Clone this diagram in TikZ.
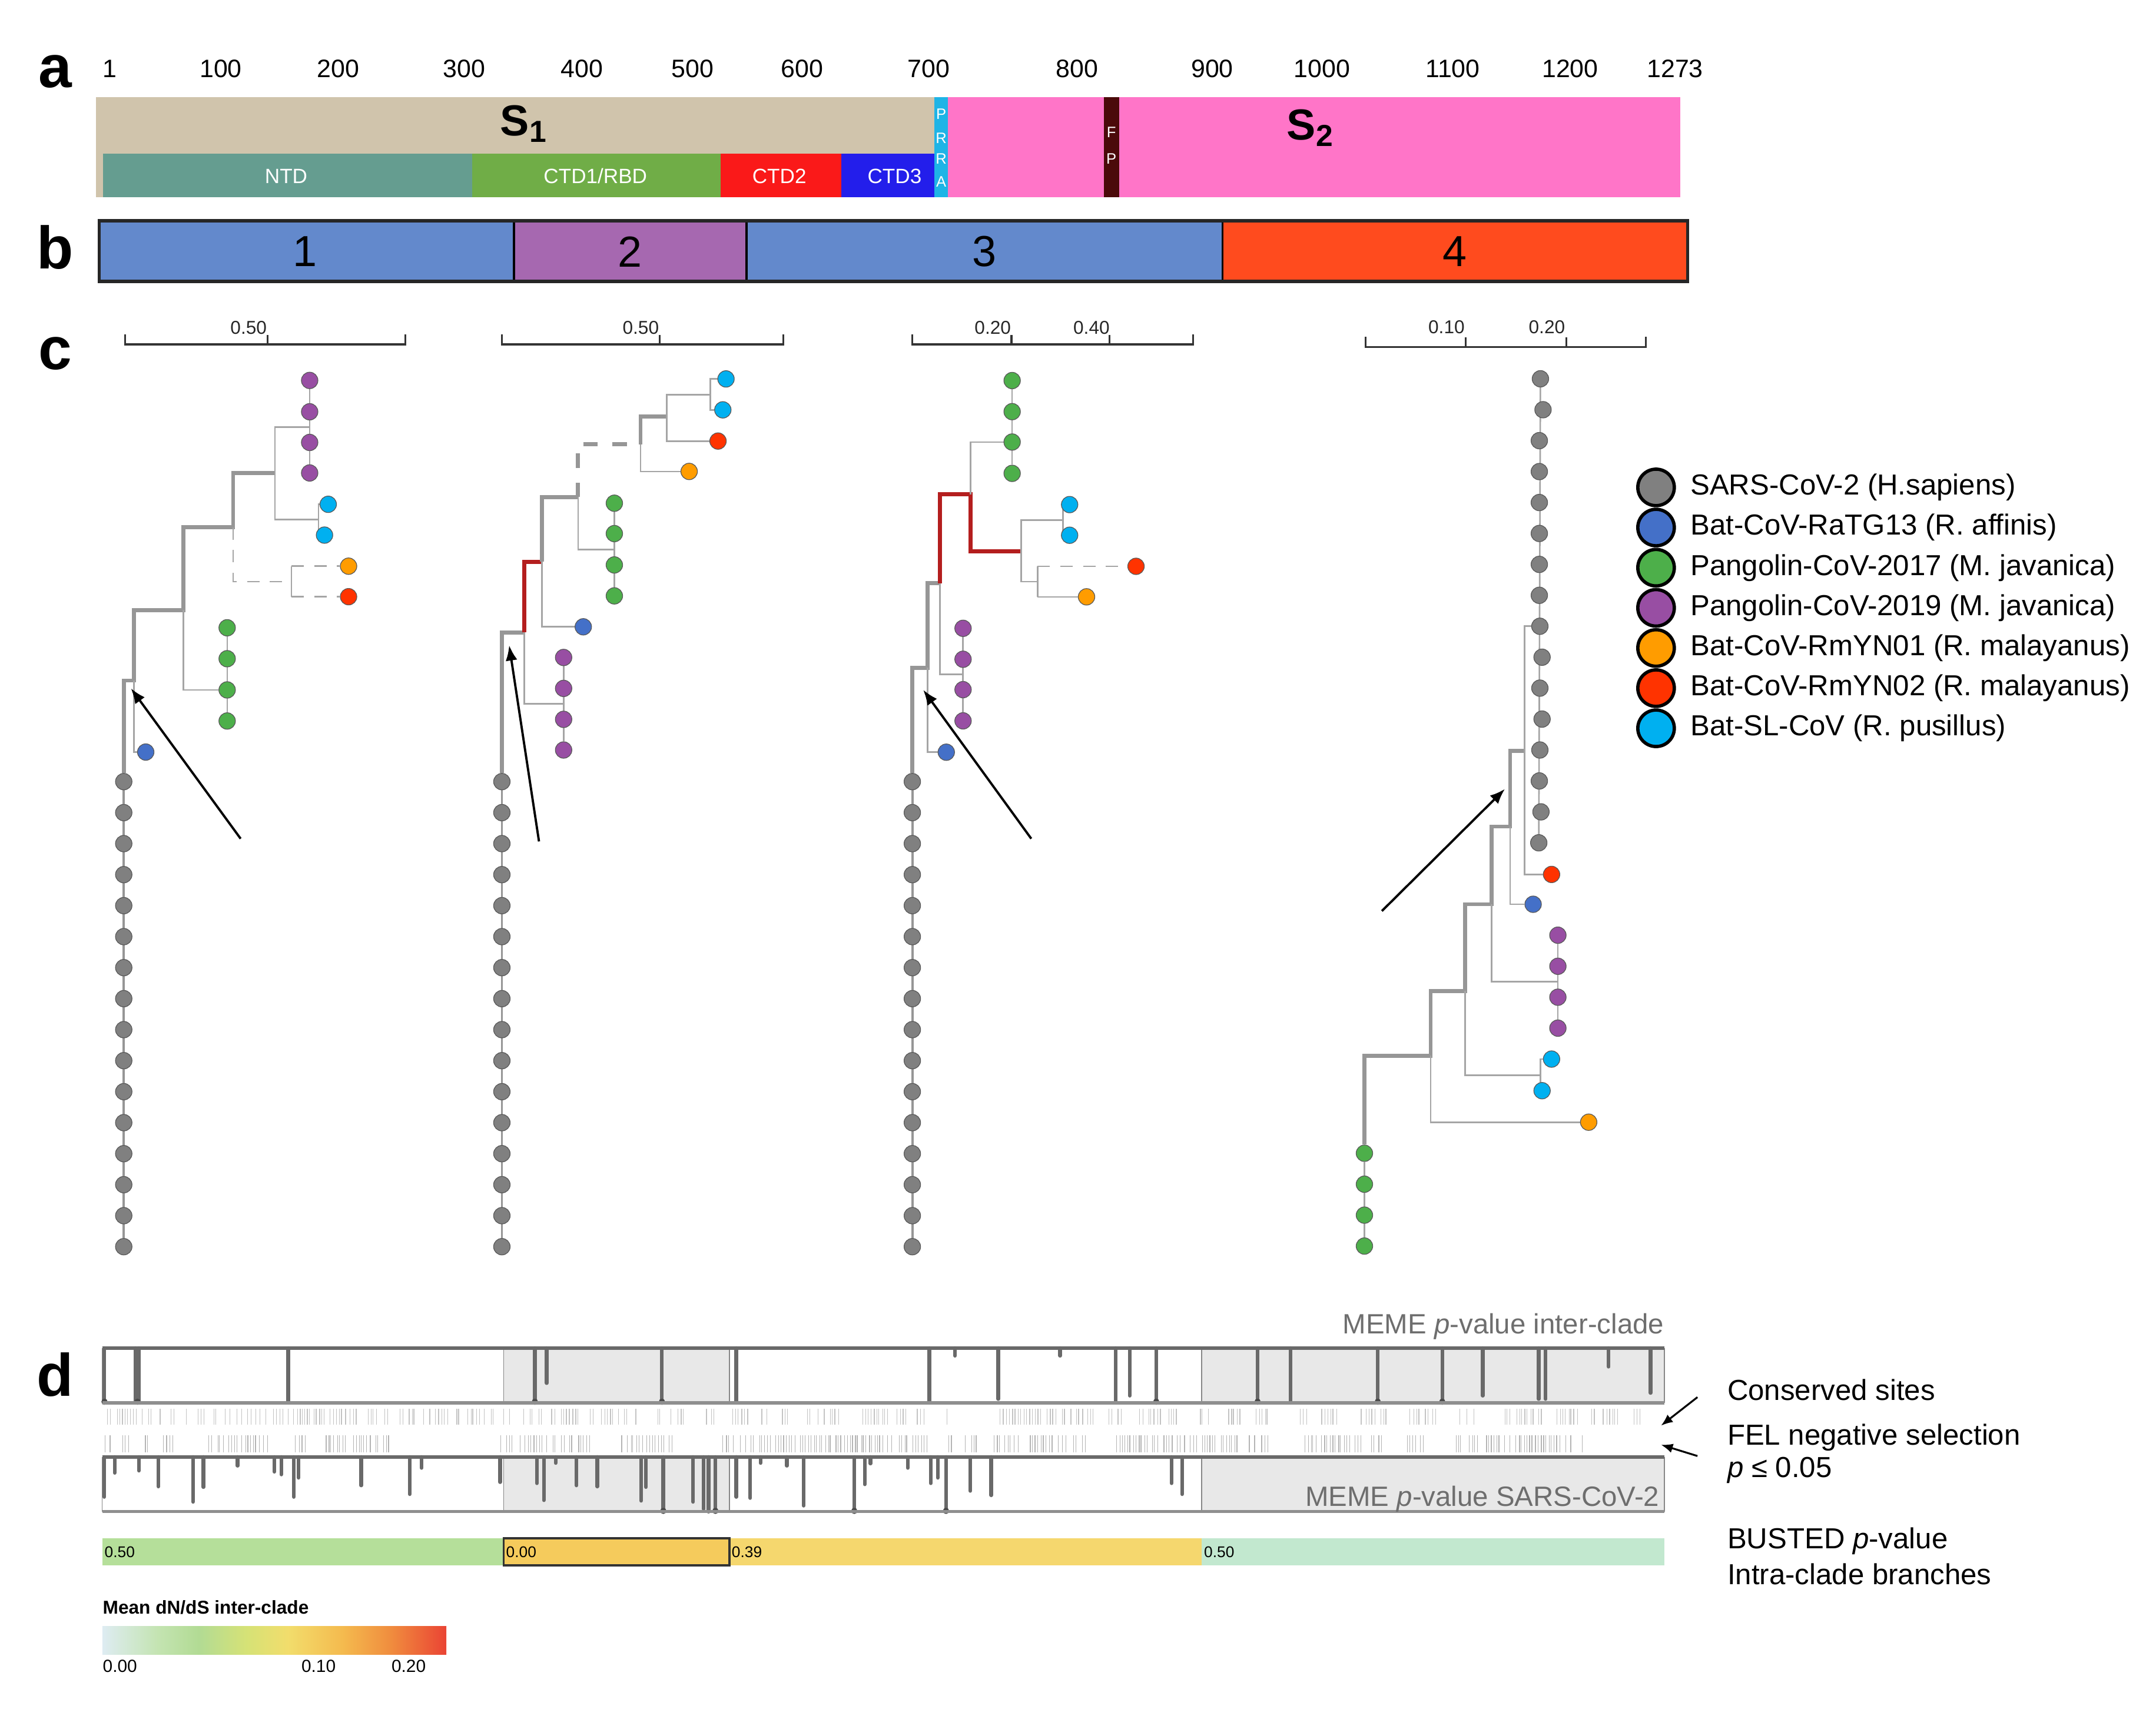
\documentclass[tikz,border=0pt]{standalone}
\usepackage{fontspec}
\setmainfont{Liberation Sans}
\usetikzlibrary{arrows.meta}
\usetikzlibrary{positioning}
\usetikzlibrary{backgrounds}

\definecolor{tanone}{RGB}{208,196,172}
\definecolor{ntdc}{RGB}{101,157,144}
\definecolor{rbdc}{RGB}{112,173,71}
\definecolor{ctdtwo}{RGB}{250,25,25}
\definecolor{ctdthree}{RGB}{35,30,235}
\definecolor{prrac}{RGB}{30,180,230}
\definecolor{stwoc}{RGB}{255,117,200}
\definecolor{fpc}{RGB}{75,10,10}
\definecolor{segblue}{RGB}{99,137,204}
\definecolor{segpurple}{RGB}{166,104,176}
\definecolor{segred}{RGB}{255,75,30}
\definecolor{sars}{RGB}{128,128,128}
\definecolor{ratg}{RGB}{68,112,200}
\definecolor{pgseventeen}{RGB}{77,175,74}
\definecolor{pgnineteen}{RGB}{152,78,163}
\definecolor{ynone}{RGB}{255,156,0}
\definecolor{yntwo}{RGB}{255,51,0}
\definecolor{slcov}{RGB}{0,176,240}
\definecolor{trunkgrey}{RGB}{150,150,150}
\definecolor{twiggrey}{RGB}{165,165,165}
\definecolor{hotred}{RGB}{180,30,30}
\definecolor{boxgrey}{RGB}{232,232,232}
\definecolor{spikegrey}{RGB}{105,105,105}
\definecolor{sitegrey}{RGB}{195,195,195}
\definecolor{felgrey}{RGB}{180,180,180}
\definecolor{memetext}{RGB}{110,110,110}
\definecolor{bgreen}{RGB}{181,223,154}
\definecolor{borange}{RGB}{245,203,92}
\definecolor{byellow}{RGB}{245,215,110}
\definecolor{bmint}{RGB}{194,232,207}
\definecolor{cbA}{RGB}{222,236,242}
\definecolor{cbB}{RGB}{196,228,178}
\definecolor{cbC}{RGB}{178,219,148}
\definecolor{cbD}{RGB}{214,226,118}
\definecolor{cbE}{RGB}{242,221,108}
\definecolor{cbF}{RGB}{244,186,78}
\definecolor{cbG}{RGB}{240,140,62}
\definecolor{cbH}{RGB}{234,68,52}

\pgfdeclarehorizontalshading{dnds}{100bp}{color(0bp)=(cbA); color(25bp)=(cbA); color(33bp)=(cbB); color(39bp)=(cbC); color(46bp)=(cbD); color(52bp)=(cbE); color(60bp)=(cbF); color(67bp)=(cbG); color(75bp)=(cbH); color(100bp)=(cbH)}

\tikzset{
  panel/.style={font=\fontsize{29}{30}\selectfont\bfseries, inner sep=0pt},
  ruler/.style={font=\fontsize{12.2}{14}\selectfont, inner sep=0pt},
  domainlab/.style={font=\fontsize{10}{12}\selectfont, text=white, inner sep=0pt},
  vletter/.style={font=\fontsize{7.3}{8}\selectfont, text=white, inner sep=0pt},
  segnum/.style={font=\fontsize{21}{24}\selectfont, inner sep=0pt},
  scalelab/.style={font=\fontsize{9}{10}\selectfont, text=black!85, inner sep=0pt},
  scalebar/.style={draw=black!80, line width=0.9pt},
  tip/.style={circle, draw=black!65, line width=0.35pt, minimum size=0.28cm, inner sep=0pt},
  legtip/.style={circle, draw=black, line width=1.6pt, minimum size=0.62cm, inner sep=0pt},
  legtext/.style={font=\fontsize{14}{16}\selectfont, anchor=west, inner sep=0pt},
  column/.style={draw=trunkgrey, line width=1.1pt},
  trunk/.style={draw=trunkgrey, line width=1.9pt},
  twig/.style={draw=twiggrey, line width=0.75pt},
  hotbranch/.style={draw=hotred, line width=1.9pt},
  pointer/.style={-{Latex[length=0.26cm,width=0.2cm]}, line width=1.1pt},
  spike/.style={draw=spikegrey, line width=1.8pt, line cap=round},
  site/.style={draw=sitegrey, line width=0.35pt},
  felsite/.style={draw=felgrey, line width=0.35pt},
  memelab/.style={font=\fontsize{13.5}{15}\selectfont, text=memetext, inner sep=0pt},
  sidelab/.style={font=\fontsize{14}{16}\selectfont, anchor=west, inner sep=0pt},
  bustlab/.style={font=\fontsize{7.5}{8}\selectfont, anchor=west, inner sep=1pt},
}

\begin{document}
\begin{tikzpicture}[x=0.023355cm, y=-0.023355cm]
\useasboundingbox (0,0) rectangle (1568,1243);
\pgfmathsetseed{7}

% panel a
\node[panel] (la) at (40,52) {a};
\foreach \x/\t in {79.8/1, 160.6/100, 246/200, 337.5/300, 423.3/400, 503.7/500, 583.5/600, 675.4/700, 783.4/800, 881.6/900, 961.4/1000, 1056.5/1100, 1141.9/1200, 1218.2/1273}
  \node[ruler] (r\t) at (\x,50) {\t};
\fill[tanone] (70,70.6) rectangle (680,143.4);
\fill[ntdc] (74.8,111.6) rectangle (343.5,143.4);
\fill[rbdc] (343.5,111.6) rectangle (523.9,143.4);
\fill[ctdtwo] (523.9,111.6) rectangle (611.7,143.4);
\fill[ctdthree] (611.7,111.6) rectangle (679.5,143.4);
\fill[prrac] (679.5,70.6) rectangle (689.5,143.4);
\fill[stwoc] (689.5,70.6) rectangle (1222.2,143.4);
\fill[fpc] (802.7,70.6) rectangle (813.9,143.4);
\node[domainlab] (ntd) at (208.1,128) {NTD};
\node[domainlab] (rbd) at (433,128) {CTD1/RBD};
\node[domainlab] (ctdb) at (566.8,128) {CTD2};
\node[domainlab] (ctdc) at (650.6,128) {CTD3};
\foreach \y/\t in {82.8/P, 100.6/R, 115.6/R, 132/A} \node[vletter] at (684.5,\y) {\t};
\foreach \y/\t in {96.3/F, 115.6/P} \node[vletter] at (808.3,\y) {\t};
\node[font=\fontsize{21}{24}\selectfont\bfseries, inner sep=0pt] (sone) at (381,90) {S\textsubscript{1}};
\node[font=\fontsize{21}{24}\selectfont\bfseries, inner sep=0pt] (stwo) at (953,93) {S\textsubscript{2}};

% panel b
\node[panel] (lb) at (40,180) {b};
\draw[line width=1pt, fill=segblue] (72.2,160.6) rectangle (373.8,204.8);
\draw[line width=1pt, fill=segpurple] (373.8,160.6) rectangle (543,204.8);
\draw[line width=1pt, fill=segblue] (543,160.6) rectangle (889.2,204.8);
\draw[line width=1pt, fill=segred] (889.2,160.6) rectangle (1227.3,204.8);
\draw[line width=1.6pt, black!85] (72.2,160.6) rectangle (1227.3,204.8);
\node[segnum] (bone) at (222,183) {1};
\node[segnum] (btwo) at (458,183) {2};
\node[segnum] (bthree) at (716,183) {3};
\node[segnum] (bfour) at (1058,183) {4};

% panel c
\node[panel] (lc) at (40,257) {c};
\draw[scalebar] (90.9,243) -- (90.9,250.5) -- (294.7,250.5) -- (294.7,243) (194.6,250.5) -- (194.6,243.5);
\node[scalelab] (sA) at (180.8,238.5) {0.50};
\draw[scalebar] (365.1,243) -- (365.1,250.5) -- (569.6,250.5) -- (569.6,243) (479.6,250.5) -- (479.6,243.5);
\node[scalelab] (sB) at (466,238.5) {0.50};
\draw[scalebar] (663.5,243) -- (663.5,250.5) -- (867.7,250.5) -- (867.7,243) (735.6,250.5) -- (735.6,243.5) (807,250.5) -- (807,243.5);
\node[scalelab] (sCa) at (722,238.5) {0.20};
\node[scalelab] (sCb) at (793.8,238.5) {0.40};
\draw[scalebar] (993,245) -- (993,252.5) -- (1197,252.5) -- (1197,245) (1066,252.5) -- (1066,245.5) (1139,252.5) -- (1139,245.5);
\node[scalelab] (sDa) at (1052,238) {0.10};
\node[scalelab] (sDb) at (1125,238) {0.20};

% tree 1
\foreach \i in {0,...,15} \node[tip, fill=sars] (A\i) at (90,{568.5+22.55*\i}) {};
\node[tip, fill=ratg] (Abl) at (106,547) {};
\foreach \i/\y in {1/456.6, 2/479.1, 3/501.8, 4/524.4} \node[tip, fill=pgseventeen] (Ag\i) at (165.2,\y) {};
\foreach \i/\y in {1/276.7, 2/299.5, 3/321.8, 4/344} \node[tip, fill=pgnineteen] (Ap\i) at (225.2,\y) {};
\node[tip, fill=slcov] (Ac1) at (238.7,366.8) {};
\node[tip, fill=slcov] (Ac2) at (236,389.2) {};
\node[tip, fill=ynone] (Ao) at (253.5,411.8) {};
\node[tip, fill=yntwo] (Ar) at (253.5,434) {};
\coordinate (An1) at (97.4,495);
\coordinate (An2) at (133.5,443.8);
\coordinate (An3) at (169.5,383.5);
\coordinate (An4) at (200,344);
\coordinate (An5) at (212,423);
\coordinate (An5a) at (212,411.8);
\coordinate (An5b) at (212,434);
\coordinate (Apm) at (225.2,310.6);
\coordinate (Acm) at (231.7,378);
\begin{scope}[on background layer]
  \draw[column] (A0) -- (A15);
  \draw[twig] (Ag1) -- (Ag4);
  \draw[twig] (Ap1) -- (Ap4);
  \draw[trunk] (A0) |- (An1) |- (An2) |- (An3) |- (An4);
  \draw[twig] (An1) |- (Abl);
  \draw[twig] (An2) |- (Ag3);
  \draw[twig] (An4) |- (Apm);
  \draw[twig] (An4) |- (Acm);
  \draw[twig] (Ac1) -| (Acm) |- (Ac2);
  \draw[twig, dash pattern=on 6pt off 5pt] (An3) |- (An5);
  \draw[twig] (An5a) -- (An5b);
  \draw[twig, dash pattern=on 6pt off 5pt] (An5a) -- (Ao);
  \draw[twig, dash pattern=on 6pt off 5pt] (An5b) -- (Ar);
\end{scope}
\coordinate (Atail) at (175,610);
\coordinate (Aaim) at (95.2,500.6);
\draw[pointer] (Atail) -- (Aaim);

% tree 2
\foreach \i in {0,...,15} \node[tip, fill=sars] (B\i) at (365,{568.5+22.55*\i}) {};
\foreach \i/\y in {1/478.2, 2/500.7, 3/523.2, 4/545.5} \node[tip, fill=pgnineteen] (Bp\i) at (409.9,\y) {};
\node[tip, fill=ratg] (Bbl) at (424.2,455.9) {};
\foreach \i/\y in {1/366, 2/388.1, 3/410.9, 4/433.4} \node[tip, fill=pgseventeen] (Bg\i) at (446.8,\y) {};
\node[tip, fill=ynone] (Bo) at (501.2,342.9) {};
\node[tip, fill=yntwo] (Br) at (522.2,320.8) {};
\node[tip, fill=slcov] (Bc1) at (528,275.6) {};
\node[tip, fill=slcov] (Bc2) at (525.7,298.1) {};
\coordinate (Bn1) at (381.2,460);
\coordinate (Bn2) at (394.2,408.6);
\coordinate (Bn3) at (420.4,361.5);
\coordinate (Bn4) at (465.9,323.2);
\coordinate (Bn5) at (485,303);
\coordinate (Bpm) at (409.9,512);
\coordinate (Bgm) at (446.8,399.6);
\coordinate (Bcm) at (516.5,287);
\begin{scope}[on background layer]
  \draw[column] (B0) -- (B15);
  \draw[twig] (Bp1) -- (Bp4);
  \draw[twig] (Bg1) -- (Bg4);
  \draw[trunk] (B0) |- (Bn1);
  \draw[hotbranch] (Bn1) |- (Bn2);
  \draw[trunk] (Bn2) |- (Bn3);
  \draw[trunk, dash pattern=on 7pt off 7pt] (Bn3) |- (Bn4);
  \draw[trunk] (Bn4) |- (Bn5);
  \draw[twig] (Bn1) |- (Bpm);
  \draw[twig] (Bn2) |- (Bbl);
  \draw[twig] (Bn3) |- (Bgm);
  \draw[twig] (Bn4) |- (Bo);
  \draw[twig] (Bn5) |- (Bcm);
  \draw[twig] (Bc1) -| (Bcm) |- (Bc2);
  \draw[twig] (Bn5) |- (Br);
\end{scope}
\coordinate (Btail) at (392,612);
\coordinate (Baim) at (370.3,469.3);
\draw[pointer] (Btail) -- (Baim);

% tree 3
\foreach \i in {0,...,15} \node[tip, fill=sars] (C\i) at (663.5,{568.5+22.55*\i}) {};
\node[tip, fill=ratg] (Cbl) at (688.2,547.1) {};
\foreach \i/\y in {1/457, 2/479.5, 3/501.6, 4/524.3} \node[tip, fill=pgnineteen] (Cp\i) at (700.4,\y) {};
\foreach \i/\y in {1/276.8, 2/299.4, 3/321.5, 4/344.3} \node[tip, fill=pgseventeen] (Cg\i) at (736.1,\y) {};
\node[tip, fill=slcov] (Cc1) at (777.9,367) {};
\node[tip, fill=slcov] (Cc2) at (777.9,389.3) {};
\node[tip, fill=yntwo] (Cr) at (826.2,411.9) {};
\node[tip, fill=ynone] (Co) at (790.2,434.1) {};
\coordinate (Cn1) at (674.7,485.7);
\coordinate (Cn2) at (683.7,424.2);
\coordinate (Cn3) at (705.8,359.6);
\coordinate (Cn4) at (742.7,400.9);
\coordinate (Cn5) at (754.6,423);
\coordinate (Cn5a) at (754.6,411.9);
\coordinate (Cn5b) at (754.6,434.1);
\coordinate (Cpm) at (700.4,490.6);
\coordinate (Ccm) at (773,378.2);
\begin{scope}[on background layer]
  \draw[column] (C0) -- (C15);
  \draw[twig] (Cp1) -- (Cp4);
  \draw[twig] (Cg1) -- (Cg4);
  \draw[trunk] (C0) |- (Cn1) |- (Cn2);
  \draw[hotbranch] (Cn2) |- (Cn3) |- (Cn4);
  \draw[twig] (Cn1) |- (Cbl);
  \draw[twig] (Cn2) |- (Cpm);
  \draw[twig] (Cn3) |- (Cg3);
  \draw[twig] (Cn4) |- (Ccm);
  \draw[twig] (Cc1) -| (Ccm) |- (Cc2);
  \draw[twig] (Cn4) |- (Cn5);
  \draw[twig] (Cn5a) -- (Cn5b);
  \draw[twig, dash pattern=on 6pt off 5pt] (Cn5a) -- (Cr);
  \draw[twig] (Cn5b) -- (Co);
\end{scope}
\coordinate (Ctail) at (750,610);
\coordinate (Caim) at (671.4,501.7);
\draw[pointer] (Ctail) -- (Caim);

% tree 4
\foreach \i/\x in {0/1120.3, 1/1122.2, 2/1119.5, 3/1119.5, 4/1119.5, 5/1119.5, 6/1119.5, 7/1119.5, 8/1119.9, 9/1121.5, 10/1119.9, 11/1121.5, 12/1119.9, 13/1119.5, 14/1120.7, 15/1119.1}
  \node[tip, fill=sars] (D\i) at (\x,{275.5+22.5*\i}) {};
\node[tip, fill=yntwo] (Dr) at (1128.4,636) {};
\node[tip, fill=ratg] (Dbl) at (1115,657.7) {};
\foreach \i/\y in {1/680.2, 2/702.8, 3/725.3, 4/747.8} \node[tip, fill=pgnineteen] (Dp\i) at (1133,\y) {};
\node[tip, fill=slcov] (Dc1) at (1128.4,770.3) {};
\node[tip, fill=slcov] (Dc2) at (1121.5,793.3) {};
\node[tip, fill=ynone] (Do) at (1155.4,816.2) {};
\foreach \i/\y in {1/838.8, 2/861.3, 3/883.8, 4/906.3} \node[tip, fill=pgseventeen] (Dg\i) at (992.3,\y) {};
\coordinate (Dn1) at (1040.5,767.9);
\coordinate (Dn2) at (1065.6,720.8);
\coordinate (Dn3) at (1084.9,657.7);
\coordinate (Dn4) at (1098.3,601.2);
\coordinate (Dn5) at (1108.7,546);
\coordinate (Dpm) at (1133,714);
\coordinate (Dcm) at (1120.3,782);
\begin{scope}[on background layer]
  \draw[twig] (D0) -- (D15);
  \draw[twig] (Dp1) -- (Dp4);
  \draw[twig] (Dg1) -- (Dg4);
  \draw[trunk] (Dg1) |- (Dn1) |- (Dn2) |- (Dn3) |- (Dn4) |- (Dn5);
  \draw[twig] (D8) -| (Dn5) |- (Dr);
  \draw[twig] (Dn4) |- (Dbl);
  \draw[twig] (Dn3) |- (Dpm);
  \draw[twig] (Dn2) |- (Dcm);
  \draw[twig] (Dc1) -| (Dcm) |- (Dc2);
  \draw[twig] (Dn1) |- (Do);
\end{scope}
\coordinate (Dtail) at (1005,662.6);
\coordinate (Daim) at (1094.5,573.8);
\draw[pointer] (Dtail) -- (Daim);

% legend
\foreach \i/\c/\t in {0/sars/{SARS-CoV-2 (H.sapiens)}, 1/ratg/{Bat-CoV-RaTG13 (R. affinis)}, 2/pgseventeen/{Pangolin-CoV-2017 (M. javanica)}, 3/pgnineteen/{Pangolin-CoV-2019 (M. javanica)}, 4/ynone/{Bat-CoV-RmYN01 (R. malayanus)}, 5/yntwo/{Bat-CoV-RmYN02 (R. malayanus)}, 6/slcov/{Bat-SL-CoV (R. pusillus)}} {
  \node[legtip, fill=\c] (L\i) at (1204.4,{354.5+29.2*\i}) {};
  \node[legtext, right=0.24cm of L\i] (Lt\i) {\t};
}

% panel d
\node[panel] (ld) at (40,1000) {d};
\foreach \y in {980.5, 1059.7} {
  \fill[boxgrey] (366.3,\y) rectangle (530.4,{\y+39.8});
  \fill[boxgrey] (873.9,\y) rectangle (1210.5,{\y+39.8});
  \draw[spikegrey!80, line width=0.5pt] (74.3,\y) -- (74.3,{\y+39.8}) (366.3,\y) -- (366.3,{\y+39.8}) (530.4,\y) -- (530.4,{\y+39.8}) (873.9,\y) -- (873.9,{\y+39.8}) (1210.5,\y) -- (1210.5,{\y+39.8});
}
\foreach \x/\l in {75.8/1, 98.5/1, 101/1, 209.6/1, 389/1, 397.6/0.64, 481.4/1, 535.5/1, 675.9/1, 694.6/0.14, 726/0.93, 771/0.14, 811.4/0.96, 821.6/0.87, 840.9/1, 914.6/1, 938.5/1, 1002/1, 1048.9/1, 1078.3/0.87, 1119/0.93, 1124.1/0.93, 1169.9/0.34, 1200.4/0.82}
  \draw[spike] (\x,980.5) -- (\x,{980.5+39.8*\l});
\foreach \x in {76, 100, 389, 481.4, 840.9, 914.6, 1002, 1048.9} \fill[spikegrey!70!black] (\x,1019.5) circle (1.5pt);
\foreach \x/\l in {75.8/0.73, 83.4/0.29, 101/0.25, 115.2/0.54, 140.4/0.82, 148/0.55, 172.8/0.16, 199.5/0.27, 204.6/0.32, 213.7/0.73, 217.2/0.38, 262.7/0.52, 298/0.68, 306.6/0.2, 363.7/0.46, 390.5/0.48, 395.5/0.79, 404.1/0.11, 419.3/0.52, 434.4/0.54, 466.3/0.8, 469.8/0.55, 482.4/1, 504.1/0.82, 511.7/0.95, 515.3/1, 520.3/1, 535.5/0.73, 545.6/0.75, 553.1/0.11, 572.3/0.16, 584.5/0.89, 621.3/1, 628.9/0.5, 633/0.12, 660.2/0.2, 676.9/0.48, 682/0.38, 688/1, 705.7/0.62, 720.9/0.7, 852/0.48, 859.7/0.68}
  \draw[spike] (\x,1059.7) -- (\x,{1059.7+39.8*\l});
\foreach \x in {482.4, 520.3, 621.3, 688} \fill[spikegrey!70!black] (\x,1098.9) circle (1.5pt);
\foreach \y in {980.5, 1059.7} {
  \draw[spikegrey, line width=1.8pt] (74.3,\y) -- (1210.5,\y);
  \draw[spikegrey!75, line width=1.5pt] (74.3,{\y+39.8}) -- (1210.5,{\y+39.8});
}
% conserved sites
\foreach \a/\b in {75.8/136.4, 144/222.3, 223/282.9, 290.5/303, 308/361.2, 363.7/371.3, 376.3/394, 399/464.7, 477.4/497.6, 512.7/520.3, 527.9/545.6, 553.1/560.7, 568.2/575.8, 586/611.2, 626.4/659.2, 666.8/674.4, 688.5/692, 727.4/796, 806/816.5, 824/857, 870/880, 892.7/903, 913/923, 941/951, 961/971.6, 989/1009.7, 1025/1045, 1060.6/1075.8, 1093.6/1121.6, 1131.7/1147, 1157/1177.5, 1187.7/1192.8} {
  \pgfmathsetmacro\nx{\a+2.1}
  \foreach \k in {\a,\nx,...,\b} {
    \pgfmathtruncatemacro\keep{rnd<0.7}
    \ifnum\keep=1
      \pgfmathsetmacro\xx{\k+1.2*rnd}
      \draw[site] (\xx,1024.8) -- (\xx,1036.2);
    \fi
  }
}
% FEL negative selection
\foreach \a/\b in {75.8/80.8, 88.4/93.5, 101/108.6, 118.7/126.3, 151.5/197, 214.7/222.3, 236.4/282.9, 363.7/429.4, 452.1/490, 525.4/674.4, 689.5/709.7, 722.4/792, 811.4/923.3, 948.7/1005.6, 1022.4/1035.1, 1058/1154.6} {
  \pgfmathsetmacro\nx{\a+2}
  \foreach \k in {\a,\nx,...,\b} {
    \pgfmathtruncatemacro\keep{rnd<0.75}
    \ifnum\keep=1
      \pgfmathsetmacro\xx{\k+1.2*rnd}
      \draw[felsite] (\xx,1044) -- (\xx,1056.2);
    \fi
  }
}
\node[memelab, anchor=base east] (memeA) at (1210.5,970) {MEME \textit{p}-value inter-clade};
\node[memelab, anchor=base east] (memeB) at (1207,1095.5) {MEME \textit{p}-value SARS-CoV-2};
\node[sidelab] (cons) at (1256,1011) {Conserved sites};
\node[sidelab] (fel) at (1256,1045.5) {FEL negative selection};
\node[sidelab] (pval) at (1256,1069.5) {\textit{p} ≤ 0.05};
\node[sidelab] (bust) at (1256,1121) {BUSTED \textit{p}-value};
\node[sidelab] (intra) at (1256,1145) {Intra-clade branches};
\coordinate (csfrom) at (1234.5,1016.2);
\coordinate (csto) at (1208,1036.9);
\coordinate (felfrom) at (1234.5,1059);
\coordinate (felto) at (1208,1050.8);
\draw[pointer, -{Latex[length=0.2cm,width=0.16cm]}, line width=0.9pt] (csfrom) -- (csto);
\draw[pointer, -{Latex[length=0.2cm,width=0.16cm]}, line width=0.9pt] (felfrom) -- (felto);

% BUSTED
\fill[bgreen] (74.3,1118.7) rectangle (366.3,1138.7);
\fill[byellow] (530.4,1118.7) rectangle (873.9,1138.7);
\fill[bmint] (873.9,1118.7) rectangle (1210.5,1138.7);
\draw[fill=borange, draw=black!80, line width=1.1pt] (366.3,1118.7) rectangle (530.4,1138.7);
\node[bustlab] (bA) at (74.3,1128.7) {0.50};
\node[bustlab] (bB) at (366.3,1128.7) {0.00};
\node[bustlab] (bC) at (530.4,1128.7) {0.39};
\node[bustlab] (bD) at (873.9,1128.7) {0.50};

% colour bar
\node[font=\fontsize{9}{10}\selectfont\bfseries, anchor=west, inner sep=0pt] (cbt) at (74.5,1169) {Mean dN/dS inter-clade};
\shade[shading=dnds] (74.5,1183) rectangle (324.6,1203.3);
\node[font=\fontsize{8.5}{10}\selectfont, anchor=west, inner sep=0pt] (cb0) at (74.5,1212) {0.00};
\node[font=\fontsize{8.5}{10}\selectfont, inner sep=0pt] (cb1) at (231.7,1212) {0.10};
\node[font=\fontsize{8.5}{10}\selectfont, inner sep=0pt] (cb2) at (297.2,1212) {0.20};
\end{tikzpicture}
\end{document}
